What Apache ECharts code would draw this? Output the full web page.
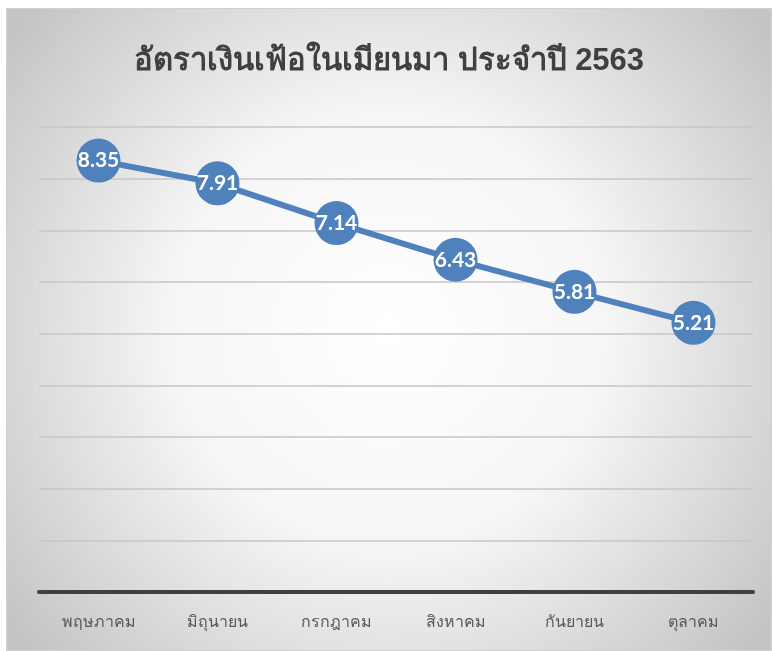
<!DOCTYPE html>
<html>
<head>
<meta charset="utf-8">
<script src="https://cdn.jsdelivr.net/npm/echarts@6/dist/echarts.min.js"></script>
<style>
  html, body { margin: 0; padding: 0; background: #fff; }
  #chart {
    position: absolute; left: 6px; top: 8px;
    width: 764px; height: 641px;
    border: 1px solid #d0d0d0;
  }
</style>
</head>
<body>
<div id="chart"></div>
<script>
// data
const months = ['พฤษภาคม', 'มิถุนายน', 'กรกฎาคม', 'สิงหาคม', 'กันยายน', 'ตุลาคม'];
const inflation = [8.35, 7.91, 7.14, 6.43, 5.81, 5.21];
const chartTitle = 'อัตราเงินเฟ้อในเมียนมา ประจำปี 2563';

const myChart = echarts.init(document.getElementById('chart'));

const option = {
  backgroundColor: {
    type: 'radial', x: 0.5, y: 0.5, r: 0.75,
    colorStops: [
      { offset: 0, color: '#ffffff' },
      { offset: 0.45, color: '#f6f6f6' },
      { offset: 1, color: '#c4c4c4' }
    ]
  },
  title: {
    text: chartTitle,
    left: 'center',
    top: 32,
    textStyle: {
      fontSize: 31,
      fontWeight: 'bold',
      color: '#404040',
      fontFamily: 'sans-serif'
    }
  },
  grid: {
    left: 32,
    right: 18,
    top: 118,
    bottom: 58
  },
  xAxis: {
    type: 'category',
    data: months,
    boundaryGap: true,
    axisLine: { lineStyle: { color: '#404040', width: 4 } },
    axisTick: { show: false },
    axisLabel: {
      color: '#595959',
      fontSize: 16,
      margin: 23,
      fontFamily: 'sans-serif'
    }
  },
  yAxis: {
    type: 'value',
    min: 0,
    max: 9,
    interval: 1,
    axisLabel: { show: false },
    axisLine: { show: false },
    axisTick: { show: false },
    splitLine: { lineStyle: { color: '#c6c6c6', width: 1.5 } }
  },
  series: [{
    type: 'line',
    data: inflation,
    symbol: 'circle',
    symbolSize: 44,
    itemStyle: { color: '#4f81bd' },
    lineStyle: { color: '#4f81bd', width: 6 },
    label: {
      show: true,
      position: 'inside',
      color: '#ffffff',
      fontSize: 21,
      fontWeight: 'bold',
      fontFamily: 'Lato',
      formatter: p => p.value.toFixed(2)
    },
    animation: false
  }]
};

myChart.setOption(option);
</script>
</body>
</html>
